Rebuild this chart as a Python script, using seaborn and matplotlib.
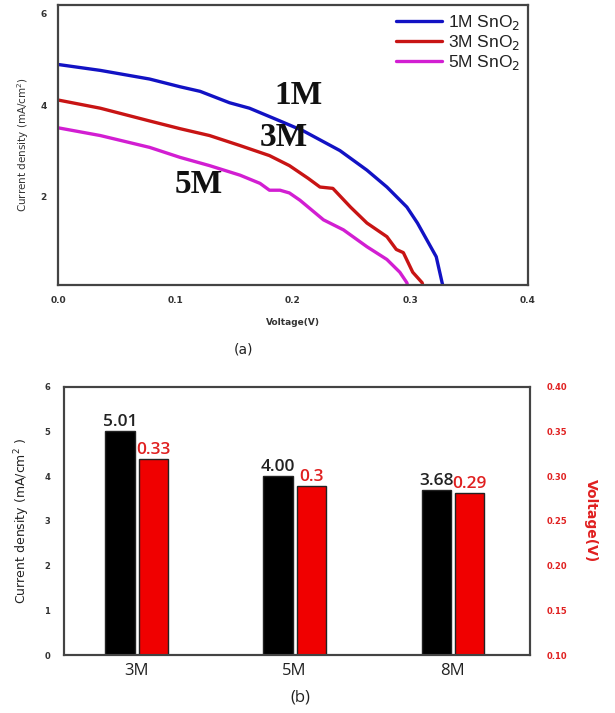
import numpy as np
import pandas as pd
import matplotlib
matplotlib.use("Agg")
import matplotlib.pyplot as plt
import seaborn as sns

# ---------------- data: panel (a) J-V curves ----------------
v_1m = [0, 0.036, 0.078, 0.104, 0.121, 0.146, 0.163, 0.189, 0.209, 0.24, 0.263, 0.280, 0.297, 0.306, 0.314, 0.322, 0.327, 0.328]
j_1m = [4.89, 4.76, 4.57, 4.40, 4.30, 4.05, 3.93, 3.65, 3.43, 3.0, 2.57, 2.2, 1.76, 1.41, 1.04, 0.67, 0.1, 0.0]
v_3m = [0, 0.036, 0.078, 0.104, 0.129, 0.155, 0.180, 0.197, 0.213, 0.223, 0.234, 0.249, 0.263, 0.280, 0.288, 0.294, 0.302, 0.310, 0.311]
j_3m = [4.11, 3.93, 3.65, 3.48, 3.33, 3.11, 2.89, 2.67, 2.39, 2.2, 2.17, 1.76, 1.41, 1.11, 0.83, 0.76, 0.33, 0.1, 0.0]
v_5m = [0, 0.036, 0.078, 0.104, 0.129, 0.155, 0.172, 0.180, 0.189, 0.197, 0.206, 0.226, 0.243, 0.263, 0.280, 0.291, 0.297, 0.298]
j_5m = [3.50, 3.33, 3.07, 2.85, 2.67, 2.46, 2.28, 2.13, 2.13, 2.07, 1.91, 1.48, 1.26, 0.89, 0.61, 0.33, 0.1, 0.0]
series_names = ["1M SnO$_2$", "3M SnO$_2$", "5M SnO$_2$"]
curve_tags = ["1M", "3M", "5M"]

# ---------------- data: panel (b) bars ----------------
categories = ["3M", "5M", "8M"]
current_density = [5.01, 4.00, 3.68]
current_labels = ["5.01", "4.00", "3.68"]
voltage_heights = [0.319, 0.289, 0.281]
voltage_labels = ["0.33", "0.3", "0.29"]

sns.set_theme(style="white")
plt.rcParams["font.family"] = ["DejaVu Sans"]

fig = plt.figure(figsize=(6.15, 7.13), dpi=100)

# ---------------- panel (a) ----------------
ax = fig.add_axes([0.0943, 0.6003, 0.764, 0.393])
frames = []
for name, v, j in zip(series_names, [v_1m, v_3m, v_5m], [j_1m, j_3m, j_5m]):
    frames.append(pd.DataFrame({"V": v, "J": j, "s": name}))
dfa = pd.concat(frames, ignore_index=True)
pal = {series_names[0]: "#1212c4", series_names[1]: "#c81414", series_names[2]: "#d21ed2"}
sns.lineplot(data=dfa, x="V", y="J", hue="s", hue_order=series_names, palette=pal,
             sort=False, estimator=None, units="s", lw=2.4, ax=ax)
ax.set_xlim(0, 0.4)
ax.set_ylim(0.05, 6.2)
ax.set_xticks([0.0, 0.1, 0.2, 0.3, 0.4])
ax.set_xticklabels(["0.0", "0.1", "0.2", "0.3", "0.4"])
ax.set_yticks([2, 4, 6])
ax.set_yticklabels(["2", "4", "6"])
ax.tick_params(length=0, labelsize=6.5, labelcolor="#333333", pad=8)
for lab in ax.get_xticklabels() + ax.get_yticklabels():
    lab.set_fontweight("bold")
ax.set_xlabel("Voltage(V)", fontsize=6.5, fontweight="bold", color="#333333", labelpad=9)
ax.set_ylabel("Current density (mA/cm$^2$)", fontsize=7.5, color="#333333", labelpad=7)
for sp in ax.spines.values():
    sp.set_visible(True)
    sp.set_color("#444444")
    sp.set_linewidth(1.6)
handles, labels = ax.get_legend_handles_labels()
leg = ax.legend(handles, labels, loc="upper right", frameon=False,
                prop={"family": "Liberation Sans", "size": 12.5},
                handlelength=2.7, handletextpad=0.3, labelspacing=0.08,
                borderaxespad=0.05)
for t in leg.get_texts():
    t.set_color("#222222")
tag_pos = [(0.205, 4.2), (0.192, 3.28), (0.12, 2.25)]
for tag, (tx, ty) in zip(curve_tags, tag_pos):
    ax.text(tx, ty, tag, fontsize=24, fontweight="bold", family="Liberation Serif",
            color="#111111", ha="center", va="center")
fig.text(0.3967, 1 - 350 / 713, "(a)", fontsize=10, ha="center", va="center", color="#222222")

# ---------------- panel (b) ----------------
bx = fig.add_axes([0.104, 0.0813, 0.758, 0.3763])
dfj = pd.DataFrame({"cat": categories, "val": current_density, "m": "J"})
dfv = pd.DataFrame({"cat": categories, "val": voltage_heights, "m": "V"})
bpal = {"J": "#000000", "V": "#f00000"}
sns.barplot(data=dfj, x="cat", y="val", hue="m", hue_order=["J", "V"], palette=bpal,
            width=0.42, gap=0.12, dodge=True, edgecolor="#222222", linewidth=1.0,
            saturation=1, legend=False, ax=bx)
bx2 = bx.twinx()
sns.barplot(data=dfv, x="cat", y="val", hue="m", hue_order=["J", "V"], palette=bpal,
            width=0.42, gap=0.12, dodge=True, edgecolor="#222222", linewidth=1.0,
            saturation=1, legend=False, ax=bx2)
bx.set_ylim(0, 6)
bx2.set_ylim(0.10, 0.40)
bx.set_xlim(-0.46, 2.49)
bx.set_yticks(range(0, 7))
bx.set_yticklabels([str(i) for i in range(0, 7)])
bx2.set_yticks([0.10, 0.15, 0.20, 0.25, 0.30, 0.35, 0.40])
bx2.set_yticklabels(["0.10", "0.15", "0.20", "0.25", "0.30", "0.35", "0.40"])
bx.tick_params(axis="y", length=0, labelsize=6, labelcolor="#333333", pad=10)
bx.tick_params(axis="x", length=0, labelsize=12, labelcolor="#222222", pad=6)
bx2.tick_params(axis="y", length=0, labelsize=6, labelcolor="#e02020", pad=12)
for lab in bx.get_yticklabels() + bx2.get_yticklabels():
    lab.set_fontweight("bold")
for lab in bx.get_xticklabels():
    lab.set_family("Open Sans")
bx.set_xlabel("")
bx.set_ylabel("Current density (mA/cm$^2$ )", fontsize=9, color="#222222", labelpad=9)
bx2.set_ylabel("Voltage(V)", fontsize=10, fontweight="bold", color="#e02020",
               rotation=270, labelpad=22)
for a in (bx, bx2):
    for sp in a.spines.values():
        sp.set_visible(True)
        sp.set_color("#444444")
        sp.set_linewidth(1.5)


def full_container(a):
    for c in a.containers:
        if len(c.patches) > 0 and all(p is not None for p in c.patches):
            return c
    return None


bx.bar_label(full_container(bx), labels=current_labels, padding=1, fontsize=12.5,
             fontweight="semibold", color="#222222", family="Open Sans")
bx2.bar_label(full_container(bx2), labels=voltage_labels, padding=1, fontsize=12.5,
              fontweight="semibold", color="#e02020", family="Open Sans")
fig.text(0.4878, 1 - 698 / 713, "(b)", fontsize=12, ha="center", va="center",
         color="#222222", family="Open Sans")

fig.savefig("out.png", dpi=100)
